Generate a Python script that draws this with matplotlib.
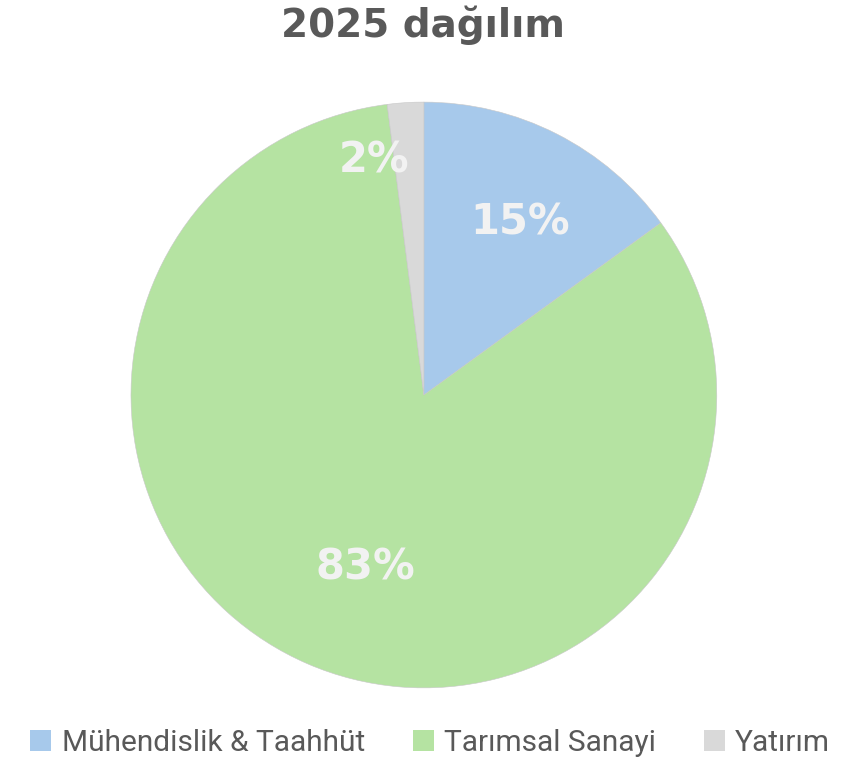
import matplotlib.pyplot as plt
from matplotlib.patches import Patch

labels = ["Mühendislik & Taahhüt", "Tarımsal Sanayi", "Yatırım"]
values = [15, 83, 2]
colors = ["#A7C9EB", "#B5E3A2", "#D9D9D9"]

fig = plt.figure(figsize=(8.64, 7.64), dpi=100)
ax = fig.add_axes([0.1516, 0.0995, 0.678, 0.767])

wedges, texts, autotexts = ax.pie(
    values, colors=colors, startangle=90, counterclock=False,
    autopct="%1.0f%%", pctdistance=0.66,
    wedgeprops=dict(edgecolor="#C8C8C8", linewidth=0.4),
    textprops=dict(color="#F2F2F2", fontsize=30, fontweight="bold", family="DejaVu Sans"))
ax.set_aspect("equal")
ax.set_xlim(-1, 1)
ax.set_ylim(-1, 1)

# nudge the labels to where the original puts them
autotexts[0].set_position((0.33, 0.59))
autotexts[1].set_position((-0.20, -0.59))
autotexts[2].set_position((-0.17, 0.80))

fig.text(0.49, 0.967, "2025 dağılım", ha="center", va="center",
         fontsize=28, fontweight="bold", color="#595959", family="DejaVu Sans")

handles = [Patch(facecolor=c, edgecolor="none") for c in colors]
fig.legend(handles, labels, loc="center", bbox_to_anchor=(0.498, 0.027), ncol=3,
           frameon=False, labelcolor="#595959",
           handlelength=0.7, handleheight=0.7, handletextpad=0.35,
           columnspacing=1.6, prop=dict(family="Roboto", size=21.5))

fig.savefig("out.png", dpi=100)
